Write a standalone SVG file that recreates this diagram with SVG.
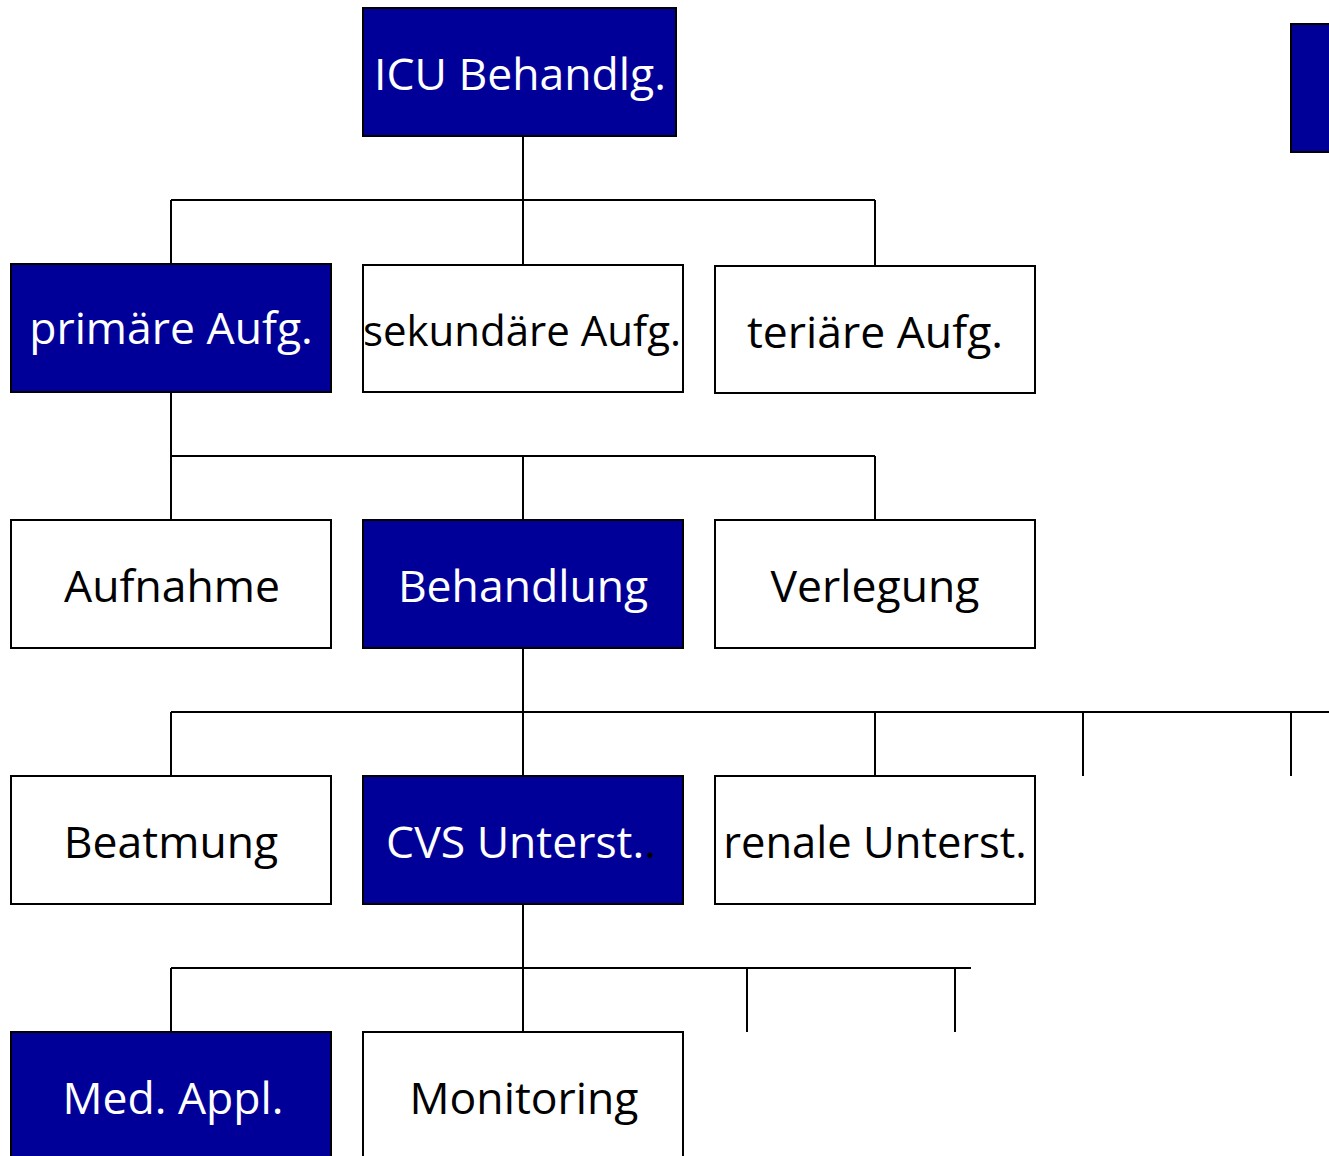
<svg xmlns="http://www.w3.org/2000/svg" width="1329" height="1156" viewBox="0 0 1329 1156">
  <style>
    .box { stroke: #000; stroke-width: 2; }
    .hi { fill: #000099; }
    .lo { fill: #fff; }
    .lbl { font-family: "Open Sans", "Noto Sans", sans-serif; font-size: 44.5px; text-anchor: middle; }
    .lhi { fill: #fff; }
    .llo { fill: #000; }
    .wire { fill: none; stroke: #000; stroke-width: 2; }
  </style>
  <rect width="1329" height="1156" fill="#fff"/>

  <g id="connectors">
    <path class="wire" d="M523,136 V200 M171,200 H875 M171,200 V264 M523,200 V264 M875,200 V266"/>
    <path class="wire" d="M171,392 V456 M171,456 H875 M171,456 V520 M523,456 V520 M875,456 V520"/>
    <path class="wire" d="M523,648 V712 M171,712 H1329 M171,712 V776 M523,712 V776 M875,712 V776 M1083,712 V776 M1291,712 V776"/>
    <path class="wire" d="M523,904 V968 M171,968 H971 M171,968 V1032 M523,968 V1032 M747,968 V1032 M955,968 V1032"/>
  </g>

  <g id="icu">
    <rect class="box hi" x="363" y="8" width="313" height="128"/>
    <text class="lbl lhi" x="520" y="90">ICU Behandlg.</text>
  </g>
  <g id="edge-node">
    <rect class="box hi" x="1291" y="24" width="60" height="128"/>
  </g>

  <g id="primaer">
    <rect class="box hi" x="11" y="264" width="320" height="128"/>
    <text class="lbl lhi" x="171" y="344">primäre Aufg.</text>
  </g>
  <g id="sekundaer">
    <rect class="box lo" x="363" y="265" width="320" height="127"/>
    <text class="lbl llo" x="522" y="346" style="font-size:42px">sekundäre Aufg.</text>
  </g>
  <g id="tertiaer">
    <rect class="box lo" x="715" y="266" width="320" height="127"/>
    <text class="lbl llo" x="875" y="348">teriäre Aufg.</text>
  </g>

  <g id="aufnahme">
    <rect class="box lo" x="11" y="520" width="320" height="128"/>
    <text class="lbl llo" x="172" y="602">Aufnahme</text>
  </g>
  <g id="behandlung">
    <rect class="box hi" x="363" y="520" width="320" height="128"/>
    <text class="lbl lhi" x="523" y="602">Behandlung</text>
  </g>
  <g id="verlegung">
    <rect class="box lo" x="715" y="520" width="320" height="128"/>
    <text class="lbl llo" x="875" y="602">Verlegung</text>
  </g>

  <g id="beatmung">
    <rect class="box lo" x="11" y="776" width="320" height="128"/>
    <text class="lbl llo" x="171" y="858">Beatmung</text>
  </g>
  <g id="cvs">
    <rect class="box hi" x="363" y="776" width="320" height="128"/>
    <text class="lbl lhi" x="521" y="858">CVS Unterst.<tspan class="llo">.</tspan></text>
  </g>
  <g id="renal">
    <rect class="box lo" x="715" y="776" width="320" height="128"/>
    <text class="lbl llo" x="875" y="858" style="font-size:43.5px">renale Unterst.</text>
  </g>

  <g id="med-appl">
    <rect class="box hi" x="11" y="1032" width="320" height="130"/>
    <text class="lbl lhi" x="173" y="1114">Med. Appl.</text>
  </g>
  <g id="monitoring">
    <rect class="box lo" x="363" y="1032" width="320" height="130"/>
    <text class="lbl llo" x="524" y="1114">Monitoring</text>
  </g>
</svg>
